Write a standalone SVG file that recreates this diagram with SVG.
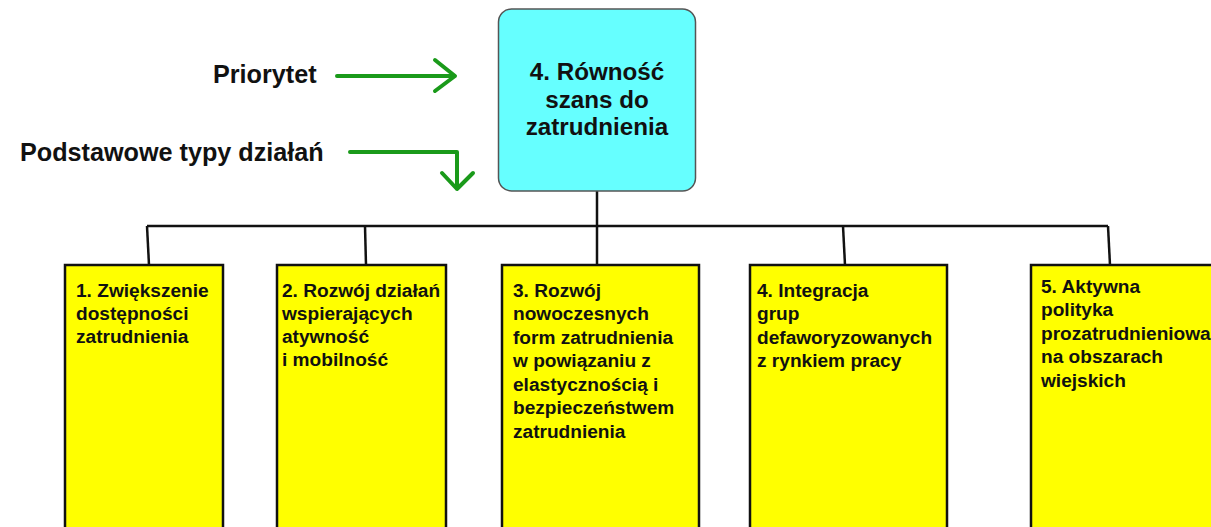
<svg xmlns="http://www.w3.org/2000/svg" width="1211" height="527" viewBox="0 0 1211 527">
<style>
.lbl{font-family:"Liberation Sans",Arial,sans-serif;font-weight:bold;fill:#111;}
.big{font-size:25.2px;}
.top{font-size:24.2px;text-anchor:middle;}
.bt{font-size:19.1px;}
.box{fill:#ffff00;stroke:#111;stroke-width:2.5;}
.conn{stroke:#111;stroke-width:2.5;fill:none;}
.arr{stroke:#1a9a1a;stroke-width:4;fill:none;stroke-linecap:round;stroke-linejoin:round;}
</style>
<rect width="1211" height="527" fill="#ffffff"/>
<g id="labels">
<text class="lbl big" x="213" y="83">Priorytet</text>
<text class="lbl big" x="20" y="161">Podstawowe typy działań</text>
</g>
<g id="arrows">
<path class="arr" d="M337 76 H454 M435 60 L455 76 L435 91"/>
<path class="arr" d="M350 152 H457 V189 M442 173 L457 189 L473 173"/>
</g>
<g id="connectors">
<path class="conn" d="M597 191 V226"/>
<path class="conn" d="M147 226 H1108"/>
<path class="conn" d="M147 226 L149 265"/>
<path class="conn" d="M365 226 L366 265"/>
<path class="conn" d="M597 226 V265"/>
<path class="conn" d="M843 226 L845 265"/>
<path class="conn" d="M1108 226 L1110 265"/>
</g>
<g id="priority">
<rect x="498.5" y="9" width="197" height="182" rx="13" ry="13" fill="#66ffff" stroke="#555" stroke-width="1.5"/>
<text class="lbl top" x="597" y="80">4. Równość</text>
<text class="lbl top" x="597" y="108">szans do</text>
<text class="lbl top" x="597" y="135">zatrudnienia</text>
</g>
<g id="n1">
<rect class="box" x="65" y="265" width="158" height="275"/>
<text class="lbl bt" x="76" y="297">1. Zwiększenie</text>
<text class="lbl bt" x="76" y="320">dostępności</text>
<text class="lbl bt" x="76" y="343">zatrudnienia</text>
</g>
<g id="n2">
<rect class="box" x="277" y="265" width="169" height="275"/>
<text class="lbl bt" x="282" y="297">2. Rozwój działań</text>
<text class="lbl bt" x="282" y="320">wspierających</text>
<text class="lbl bt" x="282" y="343">atywność</text>
<text class="lbl bt" x="282" y="366">i mobilność</text>
</g>
<g id="n3">
<rect class="box" x="502" y="265" width="197" height="275"/>
<text class="lbl bt" x="513" y="297">3. Rozwój</text>
<text class="lbl bt" x="513" y="320">nowoczesnych</text>
<text class="lbl bt" x="513" y="344">form zatrudnienia</text>
<text class="lbl bt" x="513" y="367">w powiązaniu z</text>
<text class="lbl bt" x="513" y="391">elastycznością i</text>
<text class="lbl bt" x="513" y="414">bezpieczeństwem</text>
<text class="lbl bt" x="513" y="438">zatrudnienia</text>
</g>
<g id="n4">
<rect class="box" x="750" y="265" width="197" height="275"/>
<text class="lbl bt" x="757" y="297">4. Integracja</text>
<text class="lbl bt" x="757" y="320">grup</text>
<text class="lbl bt" x="757" y="344">defaworyzowanych</text>
<text class="lbl bt" x="757" y="367">z rynkiem pracy</text>
</g>
<g id="n5">
<rect class="box" x="1031" y="265" width="200" height="275"/>
<text class="lbl bt" x="1041" y="293">5. Aktywna</text>
<text class="lbl bt" x="1041" y="316">polityka</text>
<text class="lbl bt" x="1041" y="340">prozatrudnieniowa</text>
<text class="lbl bt" x="1041" y="363">na obszarach</text>
<text class="lbl bt" x="1041" y="387">wiejskich</text>
</g>
</svg>
